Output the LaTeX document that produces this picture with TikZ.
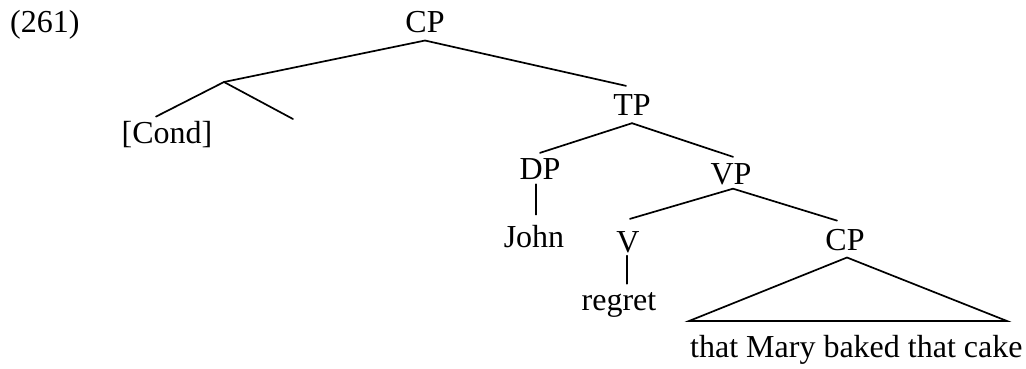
\documentclass[tikz,border=0pt]{standalone}
\usepackage{fontspec}
\setmainfont{Liberation Serif}
\begin{document}
\begin{tikzpicture}[x=1pt,y=-1pt,
  lab/.style={anchor=base,inner xsep=0pt,inner ysep=8pt,font=\fontsize{32}{38}\selectfont},
  br/.style={line width=1.7pt,line cap=round}]
\useasboundingbox (0,0) rectangle (1026,368);
% labels
\node[lab,anchor=base west] (num) at (10,32) {(261)};
\node[lab] (CPa) at (425,32) {CP};
\node[lab] (Cond) at (167,143) {[Cond]};
\node[lab] (TP) at (632,115) {TP};
\node[lab] (DP) at (540,179) {DP};
\node[lab] (John) at (534,247) {John};
\node[lab] (VP) at (731,184) {VP};
\node[lab] (V) at (628,252) {V};
\node[lab] (CPb) at (845,250) {CP};
\node[lab] (regret) at (619,310) {regret};
\node[lab,anchor=base west] (S) at (690,357) {that Mary baked that cake};
% branching points
\coordinate (X) at (224,82);
\coordinate (Xr) at (293,119);
\coordinate (bl) at (689,321);
\coordinate (brr) at (1007,321);
% branches
\draw[br] (CPa.south) -- (X);
\draw[br] (CPa.south) -- ([xshift=-6pt]TP.north);
\draw[br] (X) -- ([xshift=-11pt,yshift=-4pt]Cond.north);
\draw[br] (X) -- (Xr);
\draw[br] (TP.south) -- ([yshift=-3pt]DP.north);
\draw[br] (TP.south) -- ([xshift=2pt,yshift=-2pt]VP.north);
\draw[br] ([xshift=-4pt,yshift=3pt]DP.south) -- ([xshift=-4pt,yshift=2pt]DP.south |- John.north);
\draw[br] ([xshift=2pt,yshift=4pt]VP.south) -- ([xshift=2pt,yshift=4pt]V.north);
\draw[br] ([xshift=2pt,yshift=4pt]VP.south) -- ([xshift=-8pt]CPb.north);
\draw[br] ([xshift=-1pt,yshift=5pt]V.south) -- ([xshift=-1pt]V.south |- regret.north);
\draw[br,line join=miter] ([xshift=2pt,yshift=1pt]CPb.south) -- (bl) -- (brr) -- cycle;
\end{tikzpicture}
\end{document}
